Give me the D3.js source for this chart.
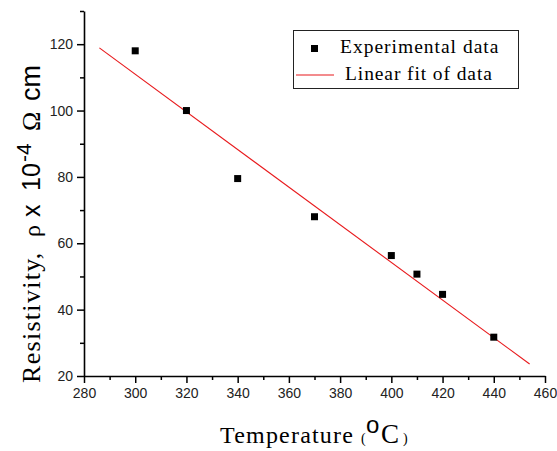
<!DOCTYPE html>
<html>
<head>
<meta charset="utf-8">
<script src="https://cdn.jsdelivr.net/npm/d3@7"></script>
<style>
  body { margin: 0; background: #fff; }
  svg { display: block; }
</style>
</head>
<body>
<div id="chart"></div>
<script>
// data
const temperature = [300, 320, 340, 370, 400, 410, 420, 440];
const resistivity = [118, 100, 79.5, 68, 56.3, 50.7, 44.6, 31.7];
const fitX = [286, 454];
const fitY = [118.9, 23.6];
const xTicks = [280, 300, 320, 340, 360, 380, 400, 420, 440, 460];
const xMinor = [290, 310, 330, 350, 370, 390, 410, 430, 450];
const yTicks = [20, 40, 60, 80, 100, 120];
const yMinor = [30, 50, 70, 90, 110, 130];

const W = 557, H = 451;
const margin = { left: 84, top: 11, right: 12, bottom: 75 };
const width = W - margin.left - margin.right;
const height = H - margin.top - margin.bottom;

const svg = d3.select('#chart').append('svg').attr('width', W).attr('height', H);
const g = svg.append('g').attr('transform', `translate(${margin.left},${margin.top})`);

const x = d3.scaleLinear().domain([280, 460]).range([0, width]);
const y = d3.scaleLinear().domain([20, 130]).range([height, 0]);

const sans = 'Arial, "Liberation Sans", sans-serif';
const serif = '"Times New Roman", "Liberation Serif", serif';

// minor ticks first, then major axis on top
g.append('g').attr('transform', `translate(0,${height})`)
  .call(d3.axisBottom(x).tickValues(xMinor).tickSize(4).tickFormat(''))
  .call(a => a.select('.domain').remove())
  .selectAll('line').attr('stroke-width', 1.5);
g.append('g')
  .call(d3.axisLeft(y).tickValues(yMinor).tickSize(4).tickFormat(''))
  .call(a => a.select('.domain').remove())
  .selectAll('line').attr('stroke-width', 1.5);

const xAxis = g.append('g').attr('transform', `translate(0,${height})`)
  .call(d3.axisBottom(x).tickValues(xTicks).tickSize(7).tickSizeOuter(0).tickPadding(5));
const yAxis = g.append('g')
  .call(d3.axisLeft(y).tickValues(yTicks).tickSize(7).tickSizeOuter(0).tickPadding(4));

[xAxis, yAxis].forEach(a => {
  a.select('.domain').attr('stroke-width', 1.6);
  a.selectAll('line').attr('stroke-width', 1.5);
  a.selectAll('text').style('font-family', sans).style('font-size', '14px').attr('fill', '#222');
});

// fit line
g.append('line')
  .attr('x1', x(fitX[0])).attr('y1', y(fitY[0]))
  .attr('x2', x(fitX[1])).attr('y2', y(fitY[1]))
  .attr('stroke', '#e8191c').attr('stroke-width', 1.1);

// data squares
const s = 7;
g.selectAll('.pt').data(temperature).enter().append('rect')
  .attr('x', (d) => x(d) - s / 2)
  .attr('y', (d, i) => y(resistivity[i]) - s / 2)
  .attr('width', s).attr('height', s).attr('fill', '#000');

// legend
const leg = svg.append('g');
leg.append('rect').attr('x', 293.5).attr('y', 30.5).attr('width', 225).attr('height', 58)
  .attr('fill', '#fff').attr('stroke', '#222').attr('stroke-width', 1);
leg.append('rect').attr('x', 311).attr('y', 45).attr('width', s).attr('height', s).attr('fill', '#000');
leg.append('line').attr('x1', 296).attr('x2', 334).attr('y1', 75).attr('y2', 75)
  .attr('stroke', '#e8191c').attr('stroke-width', 1.1);
leg.append('text').attr('x', 340).attr('y', 53).text('Experimental data')
  .style('font-family', serif).style('font-size', '19.5px').style('letter-spacing', '1px');
leg.append('text').attr('x', 345).attr('y', 80).text('Linear fit of data')
  .style('font-family', serif).style('font-size', '19.5px').style('letter-spacing', '0.9px');

// x label
const xl = svg.append('text').attr('y', 443)
  .style('font-family', serif).style('font-size', '24px').attr('fill', '#000');
xl.append('tspan').attr('x', 220).text('Temperature').style('letter-spacing', '1.2px');
xl.append('tspan').attr('x', 361).text('(').style('font-size', '14px');
xl.append('tspan').attr('x', 366).text('o').attr('dy', -10).style('font-family', sans).style('font-size', '24px');
xl.append('tspan').attr('x', 381).text('C').attr('dy', 10).style('font-size', '27px');
xl.append('tspan').attr('x', 403).text(')').style('font-size', '14px');

// y label (tspan x runs upward from y=383)
const yl = svg.append('text').attr('transform', 'translate(40,383) rotate(-90)')
  .style('font-family', serif).style('font-size', '26px').attr('fill', '#000');
yl.append('tspan').attr('x', 0).text('Resistivity,').style('letter-spacing', '1.3px');
yl.append('tspan').attr('x', 146).text('ρ').style('font-size', '24px');
yl.append('tspan').attr('x', 166).text('x').style('font-family', sans).style('font-size', '25px');
yl.append('tspan').attr('x', 192).text('10').style('font-family', sans).style('font-size', '25px');
yl.append('tspan').attr('x', 221).text('-4').attr('dy', -9).style('font-family', sans).style('font-size', '21px');
yl.append('tspan').attr('x', 252).text('Ω').attr('dy', 9);
yl.append('tspan').attr('x', 282).text('cm').style('font-family', sans).style('font-size', '27px');
</script>
</body>
</html>
